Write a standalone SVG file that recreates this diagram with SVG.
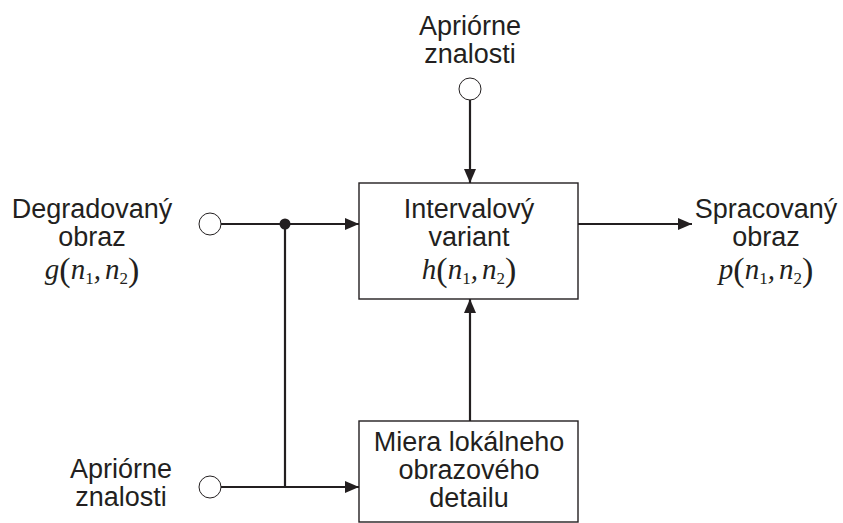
<svg xmlns="http://www.w3.org/2000/svg" width="843" height="523" viewBox="0 0 843 523">
<style>
.t{font-family:"Liberation Sans",Arial,sans-serif;font-size:27px;fill:#231f20;text-anchor:middle}
.m{font-family:"Liberation Serif","Times New Roman",serif;font-style:italic;font-size:29px;fill:#231f20;text-anchor:middle}
.p{font-style:normal;font-size:34px}
.s{font-style:normal;font-size:17px}
.ln{stroke:#231f20;stroke-width:2.2;fill:none}
.box{stroke:#231f20;stroke-width:1.4;fill:#fff}
.c{stroke:#231f20;stroke-width:1;fill:#fff}
</style>
<defs>
<marker id="ar" markerWidth="14" markerHeight="12" refX="14" refY="6" orient="auto" markerUnits="userSpaceOnUse">
<path d="M0,0 L14,6 L0,12 Z" fill="#231f20"/>
</marker>
</defs>
<rect width="843" height="523" fill="#fff"/>
<g id="connectors">
<line class="ln" x1="470" y1="100" x2="470" y2="183" marker-end="url(#ar)"/>
<line class="ln" x1="221" y1="224" x2="359" y2="224" marker-end="url(#ar)"/>
<line class="ln" x1="285" y1="224" x2="285" y2="488"/>
<line class="ln" x1="221" y1="487" x2="359" y2="487" marker-end="url(#ar)"/>
<line class="ln" x1="470" y1="421" x2="470" y2="299" marker-end="url(#ar)"/>
<line class="ln" x1="578" y1="224" x2="692" y2="224" marker-end="url(#ar)"/>
<circle cx="285" cy="224" r="5.5" fill="#231f20"/>
</g>
<g id="input-top">
<text class="t" x="470" y="35">Apriórne</text>
<text class="t" x="470" y="63">znalosti</text>
<circle class="c" cx="470" cy="89" r="11"/>
</g>
<g id="input-degraded">
<text class="t" x="92" y="218">Degradovaný</text>
<text class="t" x="92" y="246">obraz</text>
<text class="m" x="92" y="279">g<tspan class="p" dy="2">(</tspan><tspan dy="-2">n</tspan><tspan class="s" dy="5">1</tspan><tspan dy="-5">,</tspan><tspan dx="4">n</tspan><tspan class="s" dy="5">2</tspan><tspan class="p" dy="-3">)</tspan></text>
<circle class="c" cx="210" cy="224" r="11"/>
</g>
<g id="input-bottom">
<text class="t" x="121" y="478">Apriórne</text>
<text class="t" x="121" y="506">znalosti</text>
<circle class="c" cx="210" cy="487" r="11"/>
</g>
<g id="interval-variant">
<rect class="box" x="359" y="183" width="219" height="116"/>
<text class="t" x="469" y="218">Intervalový</text>
<text class="t" x="469" y="246">variant</text>
<text class="m" x="469" y="279">h<tspan class="p" dy="2">(</tspan><tspan dy="-2">n</tspan><tspan class="s" dy="5">1</tspan><tspan dy="-5">,</tspan><tspan dx="4">n</tspan><tspan class="s" dy="5">2</tspan><tspan class="p" dy="-3">)</tspan></text>
</g>
<g id="detail-measure">
<rect class="box" x="359" y="421" width="219" height="101"/>
<text class="t" x="469" y="451">Miera lokálneho</text>
<text class="t" x="469" y="479">obrazového</text>
<text class="t" x="469" y="507">detailu</text>
</g>
<g id="output">
<text class="t" x="766" y="218">Spracovaný</text>
<text class="t" x="766" y="246">obraz</text>
<text class="m" x="766" y="279">p<tspan class="p" dy="2">(</tspan><tspan dy="-2">n</tspan><tspan class="s" dy="5">1</tspan><tspan dy="-5">,</tspan><tspan dx="4">n</tspan><tspan class="s" dy="5">2</tspan><tspan class="p" dy="-3">)</tspan></text>
</g>
</svg>
